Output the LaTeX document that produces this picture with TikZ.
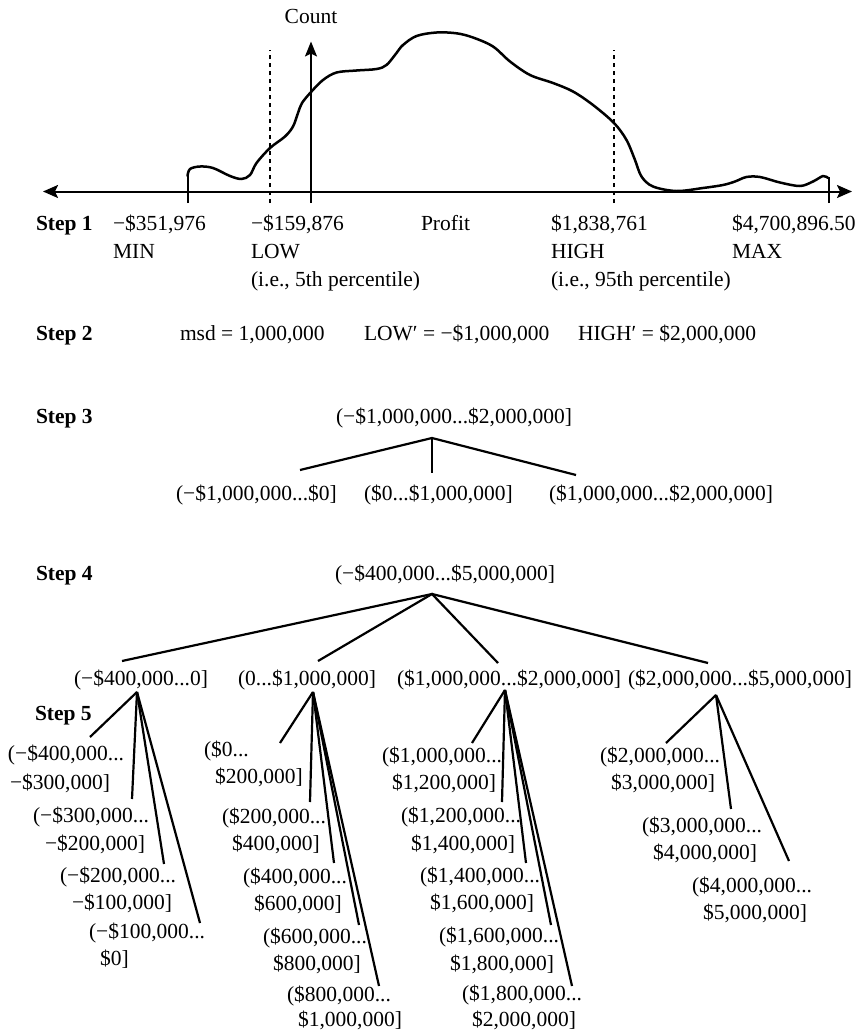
\documentclass[tikz,border=0pt]{standalone}
\usepackage{fontspec}
\setmainfont{Liberation Serif}
\usetikzlibrary{arrows.meta}
\newcommand\fsz{\fontsize{21.5}{27}\selectfont}
\begin{document}
\begin{tikzpicture}[x=1pt,y=-1pt,
  lbl/.style={anchor=base west,inner sep=0pt,outer sep=0pt,font=\fsz},
  clbl/.style={anchor=base,inner sep=0pt,outer sep=0pt,font=\fsz},
  stp/.style={lbl,font=\fsz\bfseries},
  br/.style={line width=2.2pt},
  axisline/.style={line width=2pt,{Stealth[length=15pt,width=13pt,inset=3pt]}-{Stealth[length=15pt,width=13pt,inset=3pt]}},
  countarrow/.style={line width=1.8pt,-{Stealth[length=15pt,width=12pt,inset=3pt]}},
  guide/.style={line width=1.6pt,dash pattern=on 4.5pt off 3.5pt},
  tick/.style={line width=2pt},
  density/.style={line width=2.5pt,line join=round,line cap=round}]
\fill[white] (0,0) rectangle (856,1031);
\useasboundingbox (0,0) rectangle (856,1031);

% ---------- Step 1 : histogram ----------
\coordinate (axL) at (43,191.5);
\coordinate (axR) at (852,191.5);
\draw[axisline] (axL) -- (axR);
\coordinate (lowB) at (270,203);   \coordinate (lowT) at (270,50);
\coordinate (highB) at (614,203);  \coordinate (highT) at (614,50);
\draw[guide] (lowB) -- (lowT);
\draw[guide] (highB) -- (highT);
\coordinate (cntB) at (311,203);
\node[clbl] (count) at (311,23) {Count};
\coordinate (cntT) at (311,41.5);
\draw[countarrow] (cntB) -- (cntT);
\coordinate (minB) at (187.5,203); \coordinate (minT) at (187.5,175);
\coordinate (maxB) at (829,203);   \coordinate (maxT) at (829,177);
\draw[tick] (minB) -- (minT);
\draw[tick] (maxB) -- (maxT);
\draw[density] plot[smooth,tension=0.55] coordinates {
 (187.5,176) (190,169) (200,166.5) (213,168) (230,176) (241.5,179) (250,175)
 (256.5,163) (270,148) (285,136.5) (293,126.5) (298,113) (302,103) (311.5,91.5)
 (323,80) (336.5,72.5) (356.5,70.5) (376.5,69) (386.5,65) (396.5,53) (403,45)
 (416.5,36) (436.5,32.5) (456.5,33.3) (473,37.5) (493,46.5) (510,61.5) (530,75)
 (553,83) (573,91.5) (593,105) (614,123) (626.5,140) (635,160) (641.5,176.5)
 (653,186.5) (676.5,191) (703,188) (723,185) (735,181.5) (746.5,177) (760,177)
 (780,182.5) (800,186) (813,181.5) (823,176) (828,178)};

\node[stp] (s1) at (36,230) {Step 1};
\node[lbl] (minv) at (113,230) {−\$351,976};
\node[lbl] (lowv) at (251,230) {−\$159,876};
\node[lbl] (profit) at (421,230) {Profit};
\node[lbl] (highv) at (551,230) {\$1,838,761};
\node[lbl] (maxv) at (732,230) {\$4,700,896.50};
\node[lbl] (minl) at (113,258) {MIN};
\node[lbl] (lowl) at (251,258) {LOW};
\node[lbl] (highl) at (551,258) {HIGH};
\node[lbl] (maxl) at (732,258) {MAX};
\node[lbl] (lowp) at (251,286) {(i.e., 5th percentile)};
\node[lbl] (highp) at (551,286) {(i.e., 95th percentile)};

% ---------- Step 2 ----------
\node[stp] (s2) at (36,340) {Step 2};
\node[lbl] (msd) at (180,340) {msd = 1,000,000};
\node[lbl] (lowq) at (364,340) {LOW′ = −\$1,000,000};
\node[lbl] (highq) at (578,340) {HIGH′ = \$2,000,000};

% ---------- Step 3 ----------
\node[stp] (s3) at (36,423) {Step 3};
\node[lbl] (r3) at (336,423) {(−\$1,000,000...\$2,000,000]};
\coordinate (a3) at (432,438);
\coordinate (e31) at (300,470);
\coordinate (e32) at (432,473);
\coordinate (e33) at (576,475);
\draw[br] (e31) -- (a3) -- (e33);
\draw[br] (a3) -- (e32);
\node[lbl] (c31) at (176,500) {(−\$1,000,000...\$0]};
\node[lbl] (c32) at (364,500) {(\$0...\$1,000,000]};
\node[lbl] (c33) at (549,500) {(\$1,000,000...\$2,000,000]};

% ---------- Step 4 ----------
\node[stp] (s4) at (36,580) {Step 4};
\node[clbl] (r4) at (445,580) {(−\$400,000...\$5,000,000]};
\coordinate (a4) at (432,594);
\coordinate (e41) at (122,661);
\coordinate (e42) at (318,661);
\coordinate (e43) at (498,663);
\coordinate (e44) at (708,663);
\draw[br] (e41) -- (a4) -- (e44);
\draw[br] (e42) -- (a4) -- (e43);
\node[lbl] (c41) at (74,685) {(−\$400,000...0]};
\node[lbl] (c42) at (238,685) {(0...\$1,000,000]};
\node[lbl] (c43) at (397,685) {(\$1,000,000...\$2,000,000]};
\node[lbl] (c44) at (628,685) {(\$2,000,000...\$5,000,000]};

% ---------- Step 5 ----------
\node[stp] (s5) at (35,720) {Step 5};

% subtree 1
\coordinate (a51) at (137,692);
\coordinate (e511) at (90,737);
\coordinate (e512) at (132,799);
\coordinate (e513) at (164,864);
\coordinate (e514) at (200,923);
\foreach \e in {e511,e512,e513,e514} \draw[br] (a51) -- (\e);
\node[lbl] (d511a) at (8,760) {(−\$400,000...};
\node[lbl] (d511b) at (10,789) {−\$300,000]};
\node[lbl] (d512a) at (33,822) {(−\$300,000...};
\node[lbl] (d512b) at (45,850) {−\$200,000]};
\node[lbl] (d513a) at (60,882) {(−\$200,000...};
\node[lbl] (d513b) at (72,909) {−\$100,000]};
\node[lbl] (d514a) at (89,938) {(−\$100,000...};
\node[lbl] (d514b) at (100,965) {\$0]};

% subtree 2
\coordinate (a52) at (313,692);
\coordinate (e521) at (280,743);
\coordinate (e522) at (310,802);
\coordinate (e523) at (334,863);
\coordinate (e524) at (359,925);
\coordinate (e525) at (379,986);
\foreach \e in {e521,e522,e523,e524,e525} \draw[br] (a52) -- (\e);
\node[lbl] (d521a) at (204,756) {(\$0...};
\node[lbl] (d521b) at (215,783) {\$200,000]};
\node[lbl] (d522a) at (222,823) {(\$200,000...};
\node[lbl] (d522b) at (232,850) {\$400,000]};
\node[lbl] (d523a) at (243,883) {(\$400,000...};
\node[lbl] (d523b) at (254,910) {\$600,000]};
\node[lbl] (d524a) at (263,943) {(\$600,000...};
\node[lbl] (d524b) at (273,970) {\$800,000]};
\node[lbl] (d525a) at (287,1001) {(\$800,000...};
\node[lbl] (d525b) at (298,1026) {\$1,000,000]};

% subtree 3
\coordinate (a53) at (505,690);
\coordinate (e531) at (472,743);
\coordinate (e532) at (502,802);
\coordinate (e533) at (526,863);
\coordinate (e534) at (551,925);
\coordinate (e535) at (572,986);
\foreach \e in {e531,e532,e533,e534,e535} \draw[br] (a53) -- (\e);
\node[lbl] (d531a) at (382,762) {(\$1,000,000...};
\node[lbl] (d531b) at (392,789) {\$1,200,000]};
\node[lbl] (d532a) at (401,822) {(\$1,200,000...};
\node[lbl] (d532b) at (411,850) {\$1,400,000]};
\node[lbl] (d533a) at (420,882) {(\$1,400,000...};
\node[lbl] (d533b) at (430,909) {\$1,600,000]};
\node[lbl] (d534a) at (439,942) {(\$1,600,000...};
\node[lbl] (d534b) at (450,970) {\$1,800,000]};
\node[lbl] (d535a) at (462,1000) {(\$1,800,000...};
\node[lbl] (d535b) at (472,1026) {\$2,000,000]};

% subtree 4
\coordinate (a54) at (716,695);
\coordinate (e541) at (666,743);
\coordinate (e542) at (731,809);
\coordinate (e543) at (789,861);
\foreach \e in {e541,e542,e543} \draw[br] (a54) -- (\e);
\node[lbl] (d541a) at (600,762) {(\$2,000,000...};
\node[lbl] (d541b) at (611,789) {\$3,000,000]};
\node[lbl] (d542a) at (642,832) {(\$3,000,000...};
\node[lbl] (d542b) at (653,859) {\$4,000,000]};
\node[lbl] (d543a) at (692,892) {(\$4,000,000...};
\node[lbl] (d543b) at (703,919) {\$5,000,000]};
\end{tikzpicture}
\end{document}
